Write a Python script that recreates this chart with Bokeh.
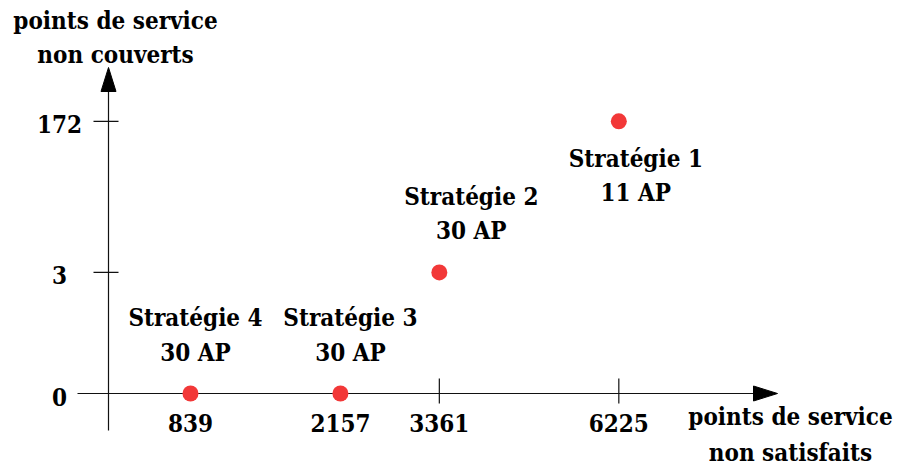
import numpy as np
from bokeh.plotting import figure
from bokeh.models import Range1d, ColumnDataSource
from bokeh.embed import file_html
from bokeh.resources import INLINE
from bokeh.core.properties import value

# ---------------- data ----------------
strategies = ["Stratégie 1", "Stratégie 2", "Stratégie 3", "Stratégie 4"]
ap_counts = [11, 30, 30, 30]
non_satisfaits = [6225, 3361, 2157, 839]      # x values
non_couverts = [172, 3, 0, 0]                 # y values
x_tick_values = [839, 2157, 3361, 6225]
y_tick_values = [0, 3, 172]
x_title = "points de service\nnon satisfaits"
y_title = "points de service\nnon couverts"

# ---------------- layout ----------------
W, H = 896, 473
FONT = value("DejaVu Serif Condensed")
FSIZE = "24px"
LH = 1.18
RED = "#f23838"
INK = "#111111"

# schematic (non-linear) axes of the original: sqrt on x, fifth root on y
def fx(v):
    return np.sqrt(np.asarray(v, dtype=float))

def fy(v):
    return np.asarray(v, dtype=float) ** 0.2

PXX = 8.578   # pixels per sqrt unit
PXY = 97.2    # pixels per fifth-root unit
x0_data = 28.966 - 190 / PXX
y1_data = 0.0 + 393 / PXY
x_range = Range1d(x0_data, x0_data + W / PXX)
y_range = Range1d(y1_data - H / PXY, y1_data)
px_x = PXX
px_y = PXY

def X(px):  # pixel from left -> data x
    return x_range.start + px / px_x

def Y(py):  # pixel from top -> data y
    return y_range.end - py / px_y

p = figure(width=W, height=H, x_range=x_range, y_range=y_range,
           output_backend="svg", toolbar_location=None, min_border=0,
           outline_line_color=None, background_fill_color="white",
           border_fill_color="white")
p.axis.visible = False
p.grid.visible = False

# ---- axes drawn as arrows ----
y_axis_x = X(108)
x_axis_y = 0.0
x_start, x_tip = X(77), X(777)
y_start, y_tip = Y(430), Y(67)
head_len, head_half = 24, 7.5

p.segment(x0=[x_start], y0=[x_axis_y], x1=[x_tip - head_len / px_x], y1=[x_axis_y],
          line_color=INK, line_width=1.2)
p.segment(x0=[y_axis_x], y0=[y_start], x1=[y_axis_x], y1=[y_tip - head_len / px_y],
          line_color=INK, line_width=1.2)
p.patch([x_tip, x_tip - head_len / px_x, x_tip - head_len / px_x],
        [x_axis_y, x_axis_y + head_half / px_y, x_axis_y - head_half / px_y],
        fill_color="black", line_color="black", line_width=1)
p.patch([y_axis_x, y_axis_x - head_half / px_x, y_axis_x + head_half / px_x],
        [y_tip, y_tip - head_len / px_y, y_tip - head_len / px_y],
        fill_color="black", line_color="black", line_width=1)

# ---- tick marks (only for points lying off the x axis) ----
tx = [fx(x) for x, y in zip(non_satisfaits, non_couverts) if y > 0]
ty = [fy(y) for y in non_couverts if y > 0]
p.segment(x0=tx, y0=[x_axis_y + 15 / px_y] * len(tx), x1=tx, y1=[x_axis_y - 10 / px_y] * len(tx),
          line_color=INK, line_width=1.2)
p.segment(x0=[y_axis_x - 15 / px_x] * len(ty), y0=ty, x1=[y_axis_x + 10 / px_x] * len(ty), y1=ty,
          line_color=INK, line_width=1.2)

# ---- tick labels ----
p.text(x=fx(x_tick_values), y=[x_axis_y] * len(x_tick_values),
       text=[str(v) for v in x_tick_values], y_offset=29.5,
       text_align="center", text_baseline="middle",
       text_font=FONT, text_font_size=FSIZE, text_font_style="bold", text_color="black")
p.text(x=[X(59)] * len(y_tick_values), y=fy(y_tick_values),
       text=[str(v) for v in y_tick_values], y_offset=3,
       text_align="center", text_baseline="middle",
       text_font=FONT, text_font_size=FSIZE, text_font_style="bold", text_color="black")

# ---- points and their labels ----
src = ColumnDataSource(dict(
    x=fx(non_satisfaits), y=fy(non_couverts),
    label=[f"{s}\n{a} AP" for s, a in zip(strategies, ap_counts)],
    dx=[17, 32, 10, 5], dy=[54.5, -59, -58.5, -58.5],
))
p.scatter("x", "y", source=src, size=16, fill_color=RED, line_color=None)
p.text("x", "y", text="label", source=src, x_offset="dx", y_offset="dy",
       text_align="center", text_baseline="middle", text_line_height=LH,
       text_font=FONT, text_font_size=FSIZE, text_font_style="bold", text_color="black")

# ---- axis titles ----
p.text(x=[y_axis_x], y=[y_tip], text=[y_title], x_offset=7, y_offset=-30,
       text_align="center", text_baseline="middle", text_line_height=LH,
       text_font=FONT, text_font_size=FSIZE, text_font_style="bold", text_color="black")
p.text(x=[x_tip], y=[x_axis_y], text=[x_title], x_offset=13, y_offset=41,
       text_align="center", text_baseline="middle", text_line_height=1.25,
       text_font=FONT, text_font_size=FSIZE, text_font_style="bold", text_color="black")

open("out.html", "w").write(file_html(p, INLINE))
